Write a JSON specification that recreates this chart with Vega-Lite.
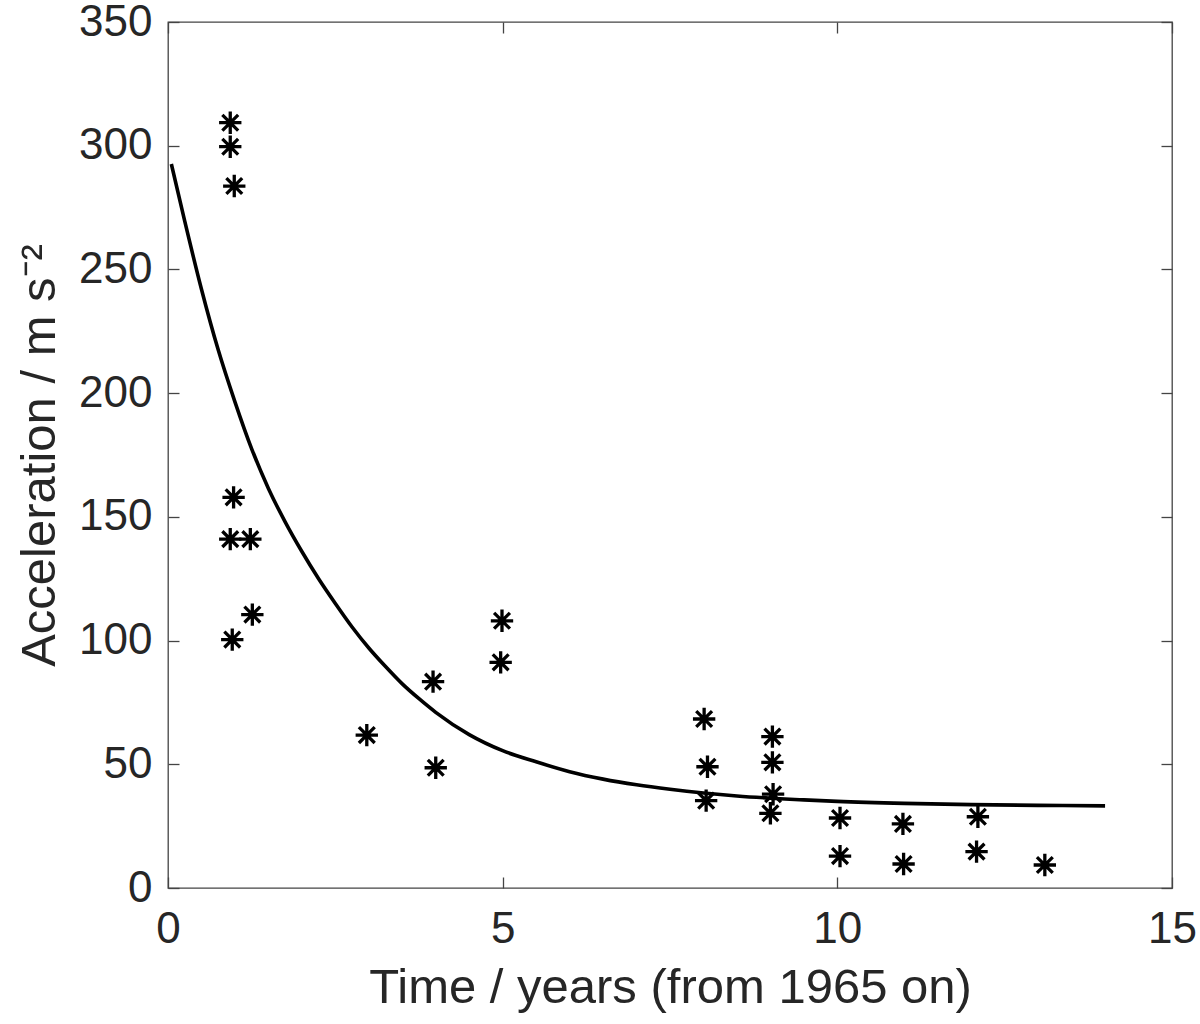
{
  "$schema": "https://vega.github.io/schema/vega-lite/v6.json",
  "width": 1004,
  "height": 866,
  "autosize": {"type": "none"},
  "padding": {"left": 168, "top": 22, "right": 28, "bottom": 136},
  "background": "white",
  "config": {
    "view": {"stroke": "#444444", "strokeWidth": 1.3},
    "font": "Liberation Sans",
    "axis": {
      "grid": false,
      "domain": false,
      "tickColor": "#444444",
      "tickWidth": 1.3,
      "labelColor": "#262626",
      "titleColor": "#262626",
      "labelFont": "Liberation Sans",
      "titleFont": "Liberation Sans",
      "labelFontSize": 44,
      "titleFontSize": 49,
      "titleFontWeight": "normal"
    }
  },
  "datasets": {
    "fit": [
      {"t": 0.05, "a": 292.6},
      {"t": 0.25, "a": 269.5},
      {"t": 0.5, "a": 242},
      {"t": 0.75, "a": 217.5},
      {"t": 1.0, "a": 196.5},
      {"t": 1.25, "a": 177.5},
      {"t": 1.5, "a": 161.5},
      {"t": 1.75, "a": 148},
      {"t": 2.0, "a": 136},
      {"t": 2.25, "a": 125},
      {"t": 2.5, "a": 115},
      {"t": 2.75, "a": 105.5},
      {"t": 3.0, "a": 97},
      {"t": 3.25, "a": 89.5},
      {"t": 3.5, "a": 82.5},
      {"t": 3.75, "a": 76.5},
      {"t": 4.0, "a": 71},
      {"t": 4.5, "a": 62},
      {"t": 5.0, "a": 55.5},
      {"t": 5.5, "a": 51},
      {"t": 6.0, "a": 47},
      {"t": 6.5, "a": 44},
      {"t": 7.0, "a": 41.7},
      {"t": 7.5, "a": 39.9},
      {"t": 8.0, "a": 38.4},
      {"t": 8.5, "a": 37.2},
      {"t": 9.0, "a": 36.3},
      {"t": 9.5, "a": 35.6},
      {"t": 10, "a": 35},
      {"t": 11, "a": 34.2},
      {"t": 12, "a": 33.7},
      {"t": 13, "a": 33.4},
      {"t": 14, "a": 33.2}
    ],
    "obs": [
      {"t": 0.93, "a": 309.3},
      {"t": 0.93, "a": 299.6},
      {"t": 0.99, "a": 283.7},
      {"t": 0.98, "a": 157.9},
      {"t": 0.93, "a": 141},
      {"t": 1.23, "a": 141},
      {"t": 1.26, "a": 110.5},
      {"t": 0.96, "a": 100.4},
      {"t": 2.97, "a": 61.8},
      {"t": 3.96, "a": 83.4},
      {"t": 4.0, "a": 48.6},
      {"t": 4.99, "a": 108},
      {"t": 4.97, "a": 91.2},
      {"t": 8.01, "a": 68.3},
      {"t": 8.06, "a": 49},
      {"t": 8.04, "a": 35.3},
      {"t": 9.03, "a": 61.2},
      {"t": 9.03, "a": 50.8},
      {"t": 9.04, "a": 37.9},
      {"t": 9.0, "a": 30.2},
      {"t": 10.04, "a": 28.3},
      {"t": 10.04, "a": 12.9},
      {"t": 10.98, "a": 25.9},
      {"t": 10.99, "a": 9.7},
      {"t": 12.1, "a": 28.8},
      {"t": 12.08, "a": 14.7},
      {"t": 13.1, "a": 9.3}
    ]
  },
  "layer": [
    {
      "data": {"name": "fit"},
      "mark": {"type": "line", "color": "black", "strokeWidth": 3.6, "interpolate": "monotone"},
      "encoding": {
        "x": {
          "field": "t",
          "type": "quantitative",
          "scale": {"domain": [0, 15], "nice": false, "zero": false},
          "axis": {
            "orient": "bottom",
            "values": [0, 5, 10, 15],
            "tickSize": -11,
            "labelPadding": 30,
            "labelFlush": false,
            "title": "Time / years (from 1965 on)",
            "titlePadding": 12
          }
        },
        "y": {
          "field": "a",
          "type": "quantitative",
          "scale": {"domain": [0, 350], "nice": false},
          "axis": {
            "orient": "left",
            "values": [0, 50, 100, 150, 200, 250, 300, 350],
            "tickSize": -11,
            "labelPadding": 27,
            "labelFlush": false,
            "title": "Acceleration / m s⁻²",
            "titlePadding": 14
          }
        }
      }
    },
    {
      "data": {"name": "obs"},
      "mark": {
        "type": "point",
        "shape": "M-1,0L1,0M0,-1L0,1M-0.7071,-0.7071L0.7071,0.7071M-0.7071,0.7071L0.7071,-0.7071",
        "size": 500,
        "filled": false,
        "color": "black",
        "strokeWidth": 3.3,
        "opacity": 1
      },
      "encoding": {
        "x": {
          "field": "t",
          "type": "quantitative",
          "axis": {"orient": "top", "values": [0, 5, 10, 15], "tickSize": -11, "labels": false, "title": null}
        },
        "y": {
          "field": "a",
          "type": "quantitative",
          "axis": {"orient": "right", "values": [0, 50, 100, 150, 200, 250, 300, 350], "tickSize": -11, "labels": false, "title": null}
        }
      }
    }
  ],
  "resolve": {"axis": {"x": "independent", "y": "independent"}}
}
